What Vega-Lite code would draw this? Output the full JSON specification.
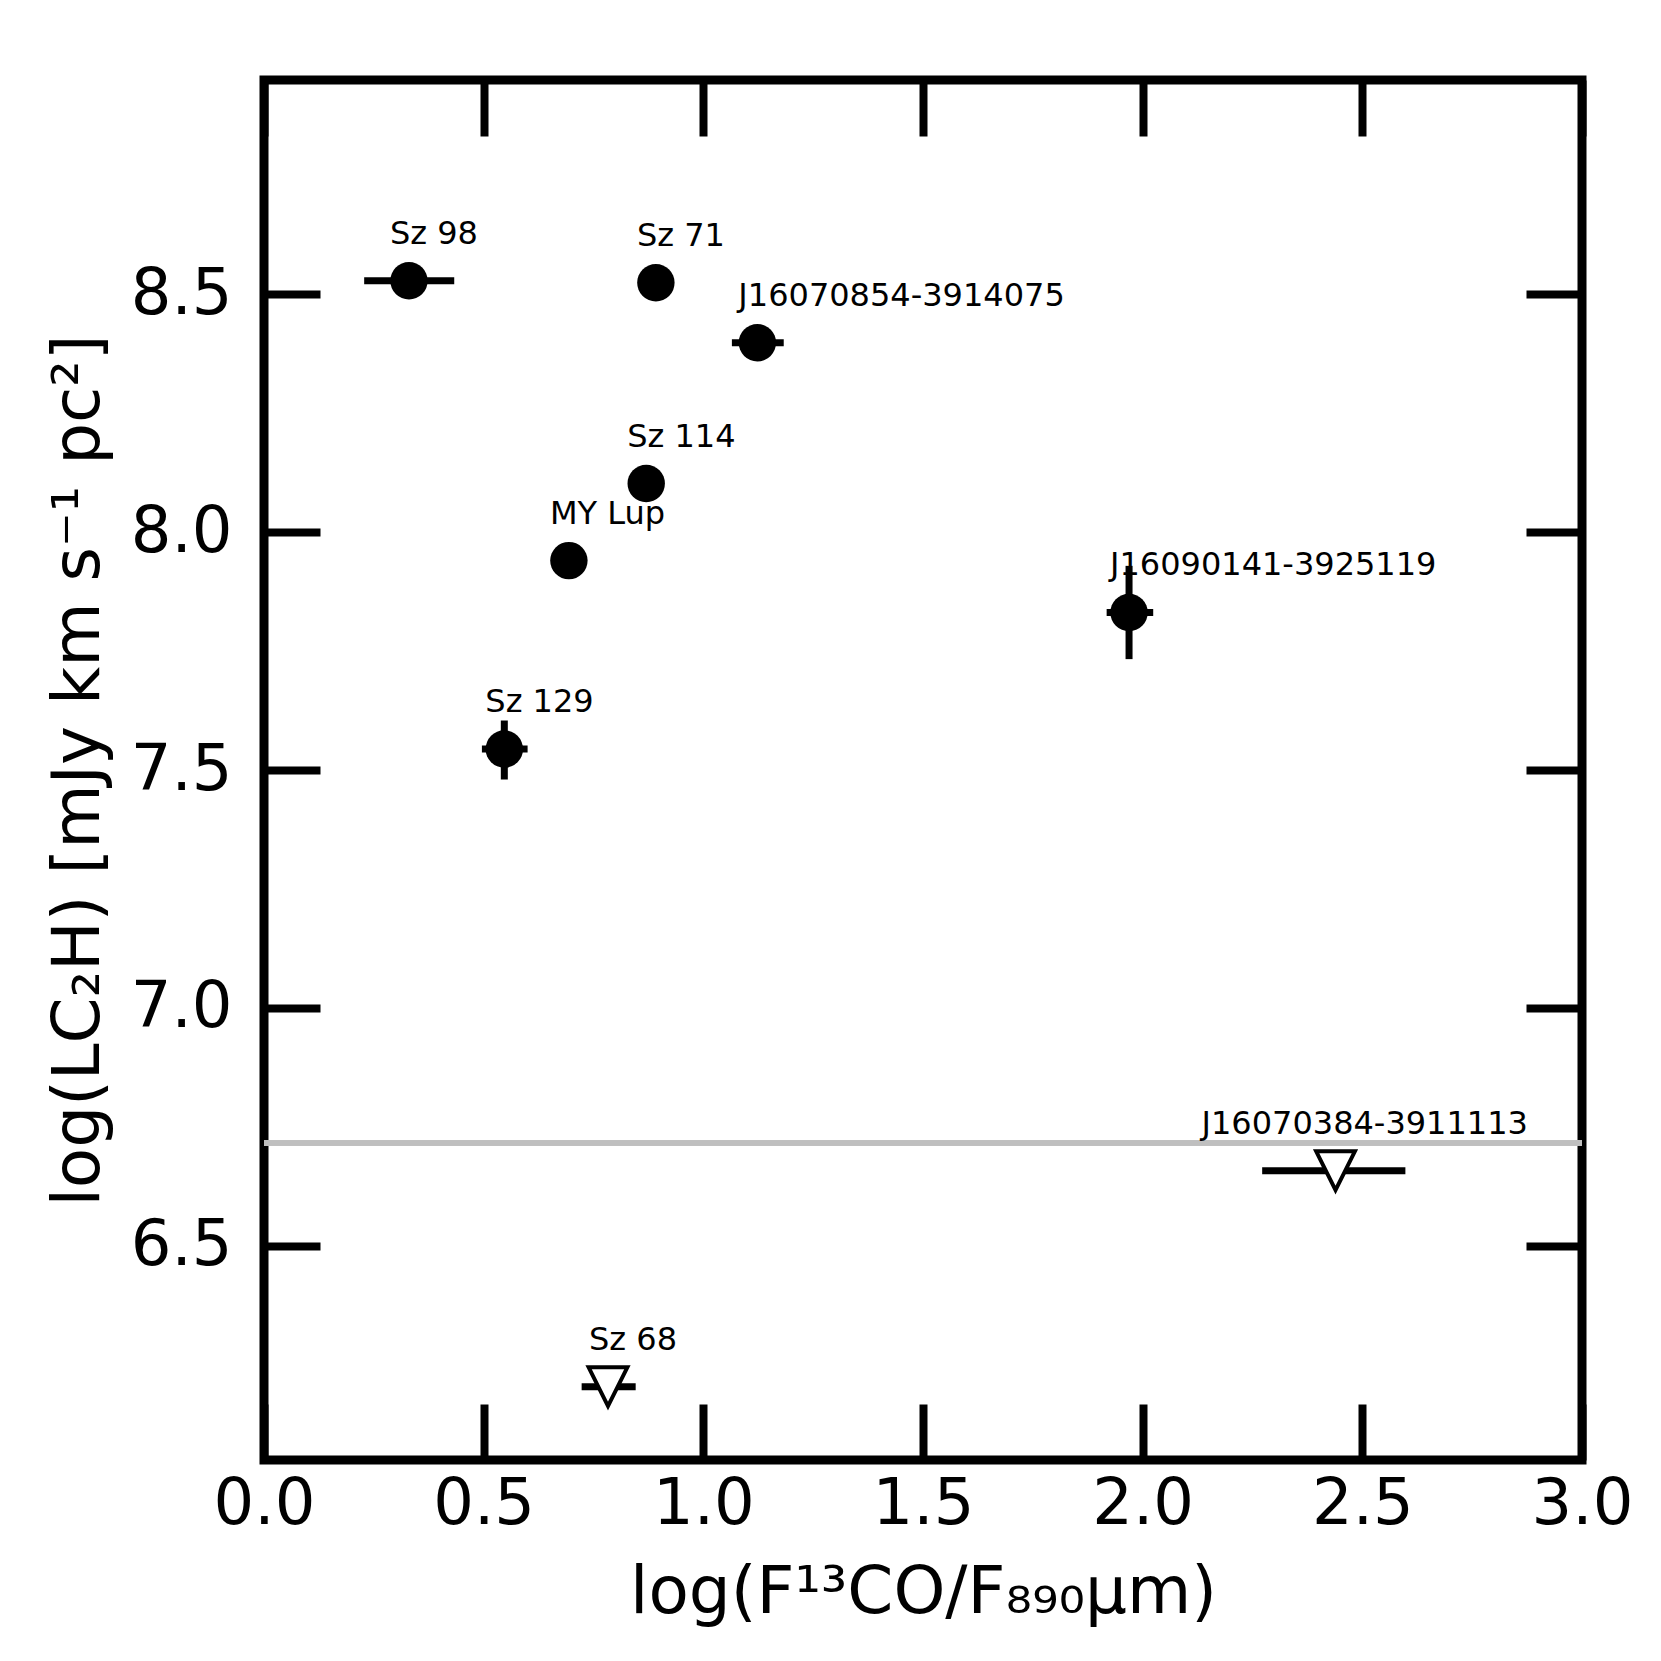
{
  "$schema": "https://vega.github.io/schema/vega-lite/v6.json",
  "autosize": "none",
  "width": 1318,
  "height": 1380,
  "padding": {"left": 264, "top": 80, "right": 79, "bottom": 201},
  "background": "white",
  "config": {
    "view": {"stroke": "black", "strokeWidth": 9},
    "axis": {
      "labelFont": "DejaVu Sans",
      "titleFont": "DejaVu Sans",
      "labelColor": "black",
      "titleColor": "black",
      "titleFontWeight": "normal",
      "grid": false,
      "domain": false,
      "tickColor": "black",
      "tickWidth": 8,
      "tickSize": -56,
      "labelFlush": false,
      "labelOverlap": false
    }
  },
  "data": {
    "values": [
      {"name": "Sz 98", "x": 0.33, "y": 8.528, "xlo": 0.228, "xhi": 0.433, "kind": "det"},
      {"name": "Sz 71", "x": 0.892, "y": 8.524, "kind": "det"},
      {"name": "J16070854-3914075", "x": 1.123, "y": 8.398, "xlo": 1.065, "xhi": 1.183, "kind": "det"},
      {"name": "Sz 114", "x": 0.87, "y": 8.102, "kind": "det"},
      {"name": "MY Lup", "x": 0.694, "y": 7.94, "kind": "det"},
      {"name": "J16090141-3925119", "x": 1.969, "y": 7.831, "xlo": 1.918, "xhi": 2.024, "ylo": 7.733, "yhi": 7.929, "kind": "det"},
      {"name": "Sz 129", "x": 0.547, "y": 7.544, "xlo": 0.496, "xhi": 0.6, "ylo": 7.48, "yhi": 7.604, "kind": "det"},
      {"name": "J16070384-3911113", "x": 2.439, "y": 6.658, "xlo": 2.272, "xhi": 2.598, "kind": "upper"},
      {"name": "Sz 68", "x": 0.783, "y": 6.204, "xlo": 0.723, "xhi": 0.846, "kind": "upper"}
    ]
  },
  "layer": [
    {
      "mark": {"type": "rule", "color": "#bfbfbf", "strokeWidth": 5},
      "encoding": {
        "y": {"datum": 6.716, "type": "quantitative", "scale": {"domain": [6.05, 8.95], "nice": false, "zero": false}, "axis": null}
      }
    },
    {
      "transform": [{"filter": "isValid(datum.xlo)"}],
      "mark": {"type": "rule", "color": "black", "strokeWidth": 7},
      "encoding": {
        "x": {"field": "xlo", "type": "quantitative", "axis": null},
        "x2": {"field": "xhi"},
        "y": {"field": "y", "type": "quantitative", "axis": null}
      }
    },
    {
      "transform": [{"filter": "isValid(datum.ylo)"}],
      "mark": {"type": "rule", "color": "black", "strokeWidth": 7},
      "encoding": {
        "x": {"field": "x", "type": "quantitative", "axis": null},
        "y": {"field": "ylo", "type": "quantitative", "axis": null},
        "y2": {"field": "yhi"}
      }
    },
    {
      "transform": [{"filter": "datum.kind === 'det'"}],
      "mark": {"type": "point", "shape": "circle", "filled": true, "color": "black", "size": 1400, "opacity": 1},
      "encoding": {
        "x": {
          "field": "x", "type": "quantitative",
          "scale": {"domain": [0, 3], "nice": false, "zero": false},
          "axis": {
            "orient": "bottom",
            "values": [0, 0.5, 1, 1.5, 2, 2.5, 3],
            "format": ".1f",
            "labelFontSize": 64,
            "labelPadding": 68,
            "title": "log(F¹³CO/F₈₉₀μm)",
            "titleFontSize": 66,
            "titlePadding": 24
          }
        },
        "y": {
          "field": "y", "type": "quantitative",
          "scale": {"domain": [6.05, 8.95], "nice": false, "zero": false},
          "axis": {
            "orient": "left",
            "values": [6.5, 7, 7.5, 8, 8.5],
            "format": ".1f",
            "labelFontSize": 64,
            "labelPadding": 88,
            "title": "log(LC₂H) [mJy km s⁻¹ pc²]",
            "titleFontSize": 66,
            "titlePadding": 18
          }
        }
      }
    },
    {
      "transform": [{"filter": "datum.kind === 'upper'"}],
      "mark": {"type": "point", "shape": "M-1,-1L1,-1L0,1Z", "filled": false, "fill": "white", "fillOpacity": 1, "stroke": "black", "strokeWidth": 4, "size": 1500, "opacity": 1},
      "encoding": {
        "x": {
          "field": "x", "type": "quantitative",
          "axis": {"orient": "top", "values": [0, 0.5, 1, 1.5, 2, 2.5, 3], "labels": false, "title": null}
        },
        "y": {
          "field": "y", "type": "quantitative",
          "axis": {"orient": "right", "values": [6.5, 7, 7.5, 8, 8.5], "labels": false, "title": null}
        }
      }
    },
    {
      "transform": [{"filter": "datum.name !== 'J16070384-3911113'"}],
      "mark": {"type": "text", "font": "DejaVu Sans", "fontSize": 32, "color": "black", "align": "left", "baseline": "alphabetic", "dx": -19, "dy": -37},
      "encoding": {
        "x": {"field": "x", "type": "quantitative", "axis": null},
        "y": {"field": "y", "type": "quantitative", "axis": null},
        "text": {"field": "name"}
      }
    },
    {
      "transform": [{"filter": "datum.name === 'J16070384-3911113'"}],
      "mark": {"type": "text", "font": "DejaVu Sans", "fontSize": 32, "color": "black", "align": "left", "baseline": "alphabetic", "dx": -134, "dy": -37},
      "encoding": {
        "x": {"field": "x", "type": "quantitative", "axis": null},
        "y": {"field": "y", "type": "quantitative", "axis": null},
        "text": {"field": "name"}
      }
    }
  ],
  "resolve": {"axis": {"x": "independent", "y": "independent"}}
}
